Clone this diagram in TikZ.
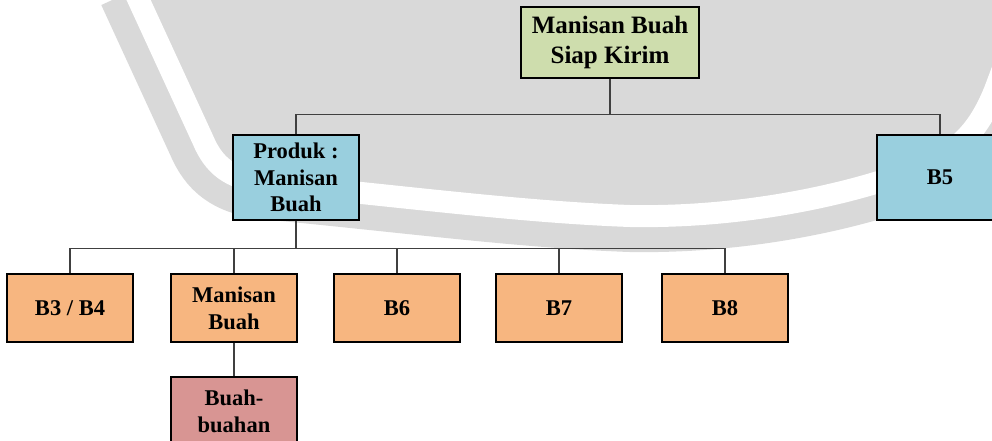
\documentclass[tikz,border=0pt]{standalone}
\usepackage{fontspec}
\setmainfont{Liberation Serif}
\definecolor{bggrey}{HTML}{D9D9D9}
\definecolor{boxgreen}{HTML}{CEDDAD}
\definecolor{boxblue}{HTML}{99CFDE}
\definecolor{boxorange}{HTML}{F7B680}
\definecolor{boxred}{HTML}{D89593}
\definecolor{linegrey}{HTML}{404040}
\begin{document}
\begin{tikzpicture}[x=1pt,y=-1pt,
  box/.style={draw=black, line width=1.3pt, inner sep=0pt, align=center,
    minimum width=126pt, font=\bfseries\fontsize{22.5}{26.7}\selectfont},
  tallbox/.style={box, minimum height=85pt},
  lowbox/.style={box, minimum height=68pt},
  conn/.style={draw=linegrey, line width=1.3pt}]
\useasboundingbox (0,0) rectangle (992,441);
\clip (0,0) rectangle (992,441);
% watermark background shape
\fill[bggrey] (134,-10) -- (203,140) .. controls (214,166) and (230,178) .. (262,183)
  .. controls (400,196) and (520,212) .. (630,216)
  .. controls (740,218) and (840,196) .. (900,175)
  .. controls (950,157) and (975,140) .. (995,90) -- (1010,50) -- (1010,-20) -- (100,-20) -- cycle;
\draw[bggrey, line width=72pt, line join=round] (134,-10) -- (203,140) .. controls (214,166) and (230,178) .. (262,183)
  .. controls (400,196) and (520,212) .. (630,216)
  .. controls (740,218) and (840,196) .. (900,175)
  .. controls (950,157) and (975,140) .. (995,90) -- (1010,50);
\draw[white, line width=22pt, line join=round] (134,-10) -- (203,140) .. controls (214,166) and (230,178) .. (262,183)
  .. controls (400,196) and (520,212) .. (630,216)
  .. controls (740,218) and (840,196) .. (900,175)
  .. controls (950,157) and (975,140) .. (995,90) -- (1010,50);
% nodes
\node[box, fill=boxgreen, minimum width=178pt, minimum height=71pt,
  font=\bfseries\fontsize{25}{29.5}\selectfont] (top) at (610,42.5) {Manisan Buah\\Siap Kirim};
\node[tallbox, fill=boxblue] (prod) at (296,177.5) {Produk :\\Manisan\\Buah};
\node[tallbox, fill=boxblue] (b5) at (940,177.5) {B5};
\node[lowbox, fill=boxorange] (b34) at (70,308) {B3 / B4};
\node[lowbox, fill=boxorange] (mb) at (234,308) {Manisan\\Buah};
\node[lowbox, fill=boxorange] (b6) at (397,308) {B6};
\node[lowbox, fill=boxorange] (b7) at (559,308) {B7};
\node[lowbox, fill=boxorange] (b8) at (725,308) {B8};
\node[lowbox, fill=boxred] (bb) at (234,411) {Buah-\\buahan};
% connectors
\draw[conn] (top.south) -- ++(0,36) -| (prod.north);
\draw[conn] (top.south) ++(0,36) -| (b5.north);
\draw[conn] (prod.south) -- ++(0,28) -| (b34.north);
\draw[conn] (prod.south) ++(0,28) -| (mb.north);
\draw[conn] (prod.south) ++(0,28) -| (b6.north);
\draw[conn] (prod.south) ++(0,28) -| (b7.north);
\draw[conn] (prod.south) ++(0,28) -| (b8.north);
\draw[conn] (mb.south) -- (bb.north);
\end{tikzpicture}
\end{document}
